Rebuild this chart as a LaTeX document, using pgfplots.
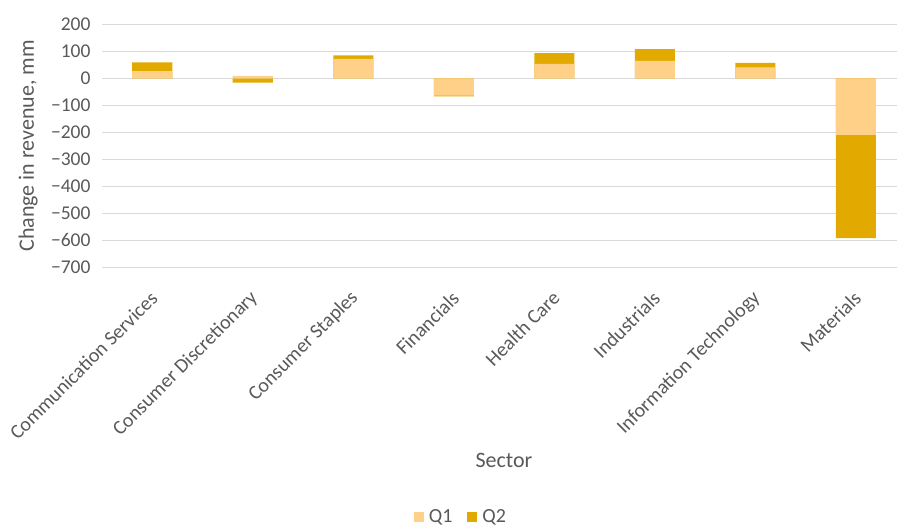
\documentclass[border=0pt]{standalone}
\usepackage{fontspec}
\setmainfont{Carlito}
\usepackage{pgfplots}
\usepackage{pgfplotstable}
\pgfplotsset{compat=1.18}
\definecolor{qone}{HTML}{FFD088}
\definecolor{qtwo}{HTML}{E2AA00}
\definecolor{txt}{HTML}{595959}
\definecolor{gridc}{HTML}{D9D9D9}

% change in revenue by sector, Q1 and Q2
\pgfplotstableread{
x Q1 Q2
0 27 32
1 9 -16
2 72 13
3 -64 -3
4 54 40
5 65 44
6 41 17
7 -210 -383
}\revenue

\begin{document}
\begin{tikzpicture}
\useasboundingbox (0,0) rectangle (897pt,-526pt);
\begin{axis}[
    at={(102pt,-267pt)}, anchor=south west,
    scale only axis,
    width=804pt, height=242.5pt,
    ybar, bar width=40pt, bar shift=0pt,
    xmin=-0.5, xmax=7.5,
    ymin=-700, ymax=200,
    ytick={-700,-600,...,200},
    yticklabels={−700,−600,−500,−400,−300,−200,−100,0,100,200},
    xtick=data,
    xticklabels={Communication Services, Consumer Discretionary, Consumer Staples, Financials, Health Care, Industrials, Information Technology, Materials},
    axis line style={draw=none},
    major tick length=0pt,
    ymajorgrids,
    grid style={gridc, line width=0.8pt},
    yticklabel style={font=\fontsize{19.5}{22}\selectfont, text=txt, anchor=east, xshift=-8pt},
    xticklabel style={font=\fontsize{20}{22}\selectfont, text=txt, rotate=45, anchor=east, xshift=-15pt, yshift=-21pt},
    xlabel={Sector},
    ylabel={Change in revenue, mm},
    label style={font=\fontsize{22}{24}\selectfont, text=txt},
    xlabel style={at={(axis description cs:0.5,-0.796)}, anchor=center},
    ylabel style={at={(axis description cs:-0.092,0.5)}, anchor=center, rotate=0},
    legend style={at={(axis description cs:0.4465,-1.03)}, anchor=center,
        draw=none, legend columns=2, font=\fontsize{20}{22}\selectfont, text=txt,
        /tikz/every even column/.append style={column sep=13pt}},
    legend image code/.code={\fill[#1] (0pt,-5pt) rectangle (10pt,5pt); \path (13pt,0pt);},
]
\addplot[fill=qtwo, draw=none, forget plot] table[x=x, y expr={ifthenelse(\thisrow{Q1}*\thisrow{Q2}>0, \thisrow{Q1}+\thisrow{Q2}, \thisrow{Q2})}] {\revenue};
\addplot[fill=qone, draw=none] table[x=x, y=Q1] {\revenue};
\addlegendentry{Q1}
\addlegendimage{fill=qtwo, draw=none}
\addlegendentry{Q2}
\end{axis}
\end{tikzpicture}
\end{document}
